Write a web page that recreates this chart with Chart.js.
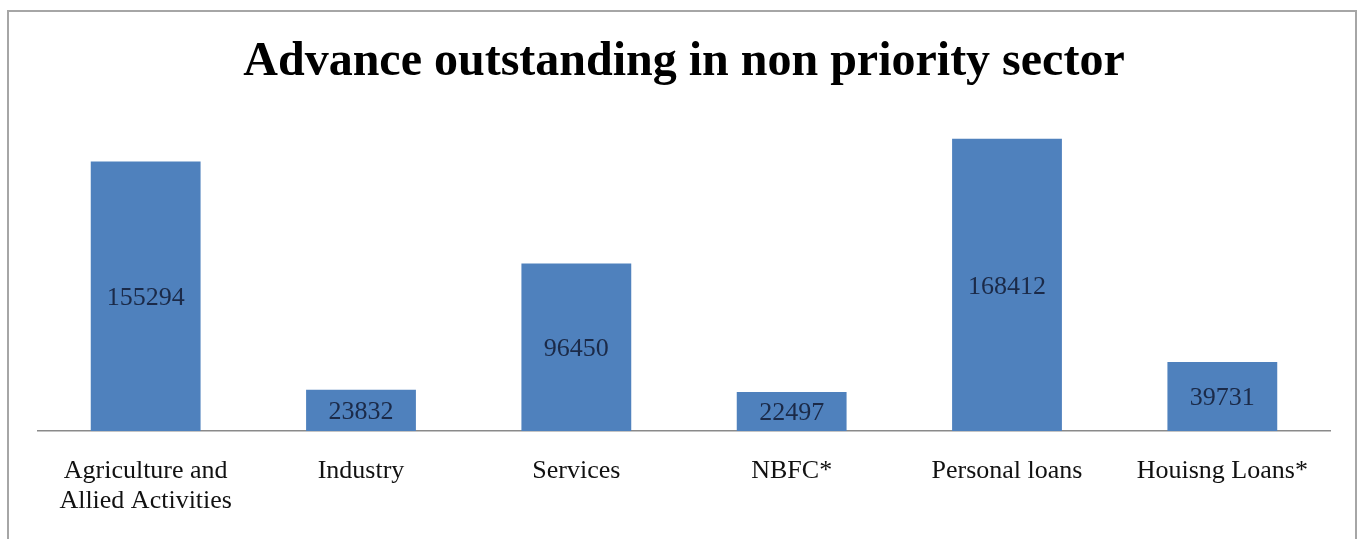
<!DOCTYPE html>
<html>
<head>
<meta charset="utf-8">
<script src="https://cdn.jsdelivr.net/npm/chart.js@4/dist/chart.umd.min.js"></script>
<style>
  html, body { margin: 0; padding: 0; background: #fff; }
  #wrap { width: 1359px; height: 539px; }
</style>
</head>
<body>
<div id="wrap"><canvas id="myChart" width="1359" height="539"></canvas></div>
<script>
var ctx = document.getElementById("myChart").getContext("2d");

const categories = [
  ["Agriculture and", "Allied Activities"],
  "Industry",
  "Services",
  "NBFC*",
  "Personal loans",
  "Houisng Loans*"
];

// outstanding advances per sector
const advances = [155294, 23832, 96450, 22497, 168412, 39731];

const serif = "'Liberation Serif', 'Times New Roman', serif";

// thin frame around the whole chart
const framePlugin = {
  id: "frame",
  beforeDraw(chart) {
    const c = chart.ctx;
    c.save();
    c.strokeStyle = "#a6a6a6";
    c.lineWidth = 2;
    c.strokeRect(8, 11, 1348, 600);
    c.restore();
  }
};

// value printed in the middle of each bar
const valueLabels = {
  id: "valueLabels",
  afterDatasetsDraw(chart) {
    const c = chart.ctx;
    const meta = chart.getDatasetMeta(0);
    c.save();
    c.font = "26px " + serif;
    c.fillStyle = "#1b2a48";
    c.textAlign = "center";
    c.textBaseline = "middle";
    meta.data.forEach((bar, i) => {
      const v = chart.data.datasets[0].data[i];
      c.fillText(String(v), bar.x, (bar.y + bar.base) / 2 + 2);
    });
    c.restore();
  }
};

var chart = new Chart(ctx, {
  type: "bar",
  data: {
    labels: categories,
    datasets: [
      {
        label: "Advance outstanding",
        data: advances,
        backgroundColor: "#4f81bd",
        borderWidth: 0,
        barPercentage: 0.51,
        categoryPercentage: 1
      }
    ]
  },
  options: {
    responsive: false,
    animation: false,
    layout: { padding: { left: 38, right: 29, top: 0, bottom: 0 } },
    plugins: {
      legend: { display: false },
      tooltip: { enabled: false },
      title: {
        display: true,
        text: "Advance outstanding in non priority sector",
        color: "#000",
        font: { family: serif, size: 48, weight: "bold" },
        padding: { top: 34, bottom: 27 }
      }
    },
    scales: {
      x: {
        grid: { display: false, drawTicks: false },
        border: { display: true, color: "#8a8a8a", width: 1.5 },
        ticks: {
          color: "#111",
          padding: 25,
          maxRotation: 0,
          autoSkip: false,
          font: { family: serif, size: 26, lineHeight: 1.15 }
        },
        afterFit(scale) { scale.height = 108; }
      },
      y: {
        display: false,
        min: 0,
        max: 180000
      }
    }
  },
  plugins: [framePlugin, valueLabels]
});
</script>
</body>
</html>
